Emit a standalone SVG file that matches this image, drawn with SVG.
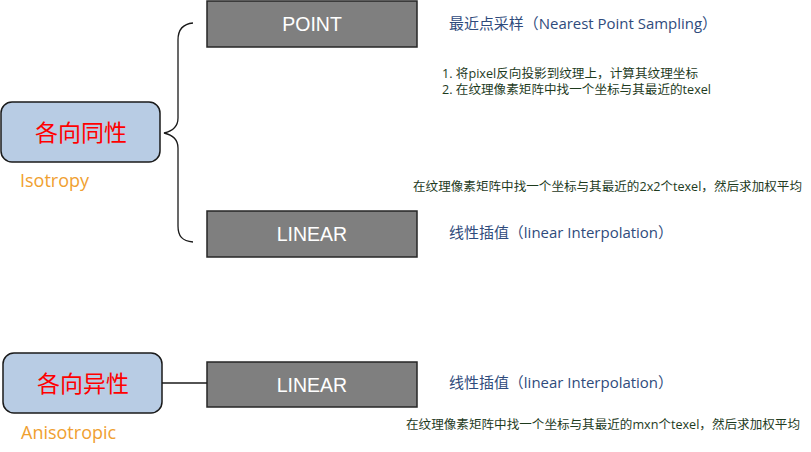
<svg xmlns="http://www.w3.org/2000/svg" width="811" height="452" viewBox="0 0 811 452">
<style>
.cat{fill:#b8cce4;stroke:#1a1a1a;stroke-width:1.5}
.catT{font-family:"Noto Sans CJK SC",sans-serif;font-size:23px;fill:#ff0000;text-anchor:middle}
.en{font-family:"Open Sans","Noto Sans CJK SC",sans-serif;font-size:18px;fill:#f0a030}
.box{fill:#7f7f7f;stroke:#262626;stroke-width:1.5}
.boxT{font-family:"Liberation Sans",Arial,sans-serif;font-size:19.5px;fill:#ffffff;text-anchor:middle}
.title{font-family:"Open Sans","Noto Sans CJK SC",sans-serif;font-size:15px;fill:#2f4b7c}
.note{font-family:"Open Sans","Noto Sans CJK SC",sans-serif;font-size:12px;fill:#1d3a1d}
.conn{fill:none;stroke:#1a1a1a;stroke-width:1.3}
</style>
<rect width="811" height="452" fill="#ffffff"/>
<g id="isotropy">
<rect class="cat" x="1" y="102" width="159" height="60" rx="11"/>
<text class="catT" x="81" y="141">各向同性</text>
<text class="en" x="20" y="187">Isotropy</text>
</g>
<g id="point">
<rect class="box" x="207" y="1" width="210" height="46"/>
<text class="boxT" x="312" y="31">POINT</text>
</g>
<g id="linear1">
<rect class="box" x="207" y="211" width="210" height="46"/>
<text class="boxT" x="312" y="241">LINEAR</text>
</g>
<g id="anisotropic">
<rect class="cat" x="3" y="353" width="159" height="60" rx="11"/>
<text class="catT" x="83" y="392">各向异性</text>
<text class="en" x="21" y="439">Anisotropic</text>
</g>
<g id="linear2">
<rect class="box" x="207" y="362" width="210" height="45"/>
<text class="boxT" x="312" y="392">LINEAR</text>
</g>
<g id="connectors">
<path class="conn" d="M193,23 C182,24 178,30 178,40 L178,118 C178,126 173,131 164,133 C173,135 178,140 178,148 L178,226 C178,236 182,241 193,242"/>
<line class="conn" x1="162" y1="383" x2="207" y2="383"/>
</g>
<g id="labels">
<text class="title" x="449" y="29" textLength="268" lengthAdjust="spacingAndGlyphs">最近点采样（Nearest Point Sampling）</text>
<text class="note" x="442" y="78" textLength="256" lengthAdjust="spacingAndGlyphs">1. 将pixel反向投影到纹理上，计算其纹理坐标</text>
<text class="note" x="442" y="94" textLength="269" lengthAdjust="spacingAndGlyphs">2. 在纹理像素矩阵中找一个坐标与其最近的texel</text>
<text class="note" x="413" y="191" textLength="389" lengthAdjust="spacingAndGlyphs">在纹理像素矩阵中找一个坐标与其最近的2x2个texel，然后求加权平均</text>
<text class="title" x="449" y="238" textLength="224" lengthAdjust="spacingAndGlyphs">线性插值（linear Interpolation）</text>
<text class="title" x="449" y="388" textLength="224" lengthAdjust="spacingAndGlyphs">线性插值（linear Interpolation）</text>
<text class="note" x="406" y="429" textLength="394" lengthAdjust="spacingAndGlyphs">在纹理像素矩阵中找一个坐标与其最近的mxn个texel，然后求加权平均</text>
</g>
</svg>
